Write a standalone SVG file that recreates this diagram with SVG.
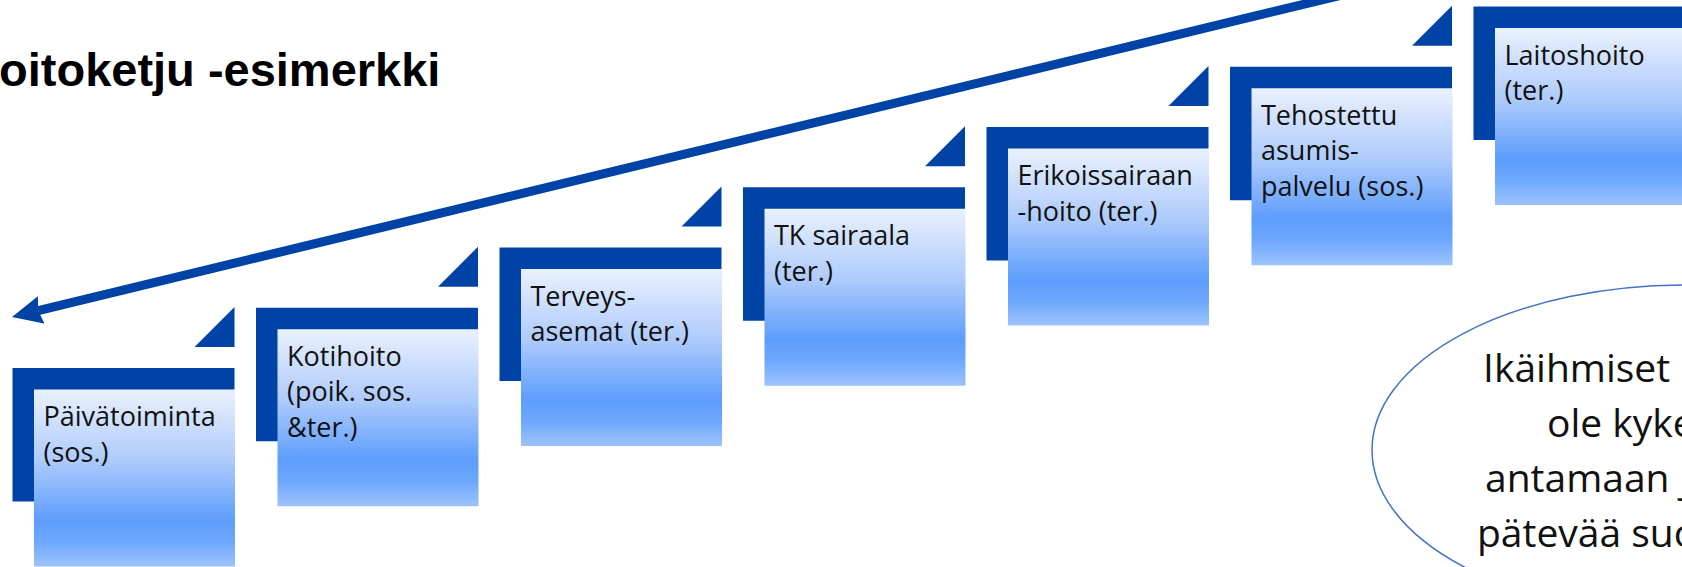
<svg xmlns="http://www.w3.org/2000/svg" width="1682" height="567" viewBox="0 0 1682 567">
  <defs>
    <linearGradient id="lightFill" x1="0" y1="0" x2="0" y2="1">
      <stop offset="0" stop-color="#eaf1fe"/>
      <stop offset="0.4" stop-color="#aecbfc"/>
      <stop offset="0.74" stop-color="#5d9dfd"/>
      <stop offset="0.86" stop-color="#6ea8fd"/>
      <stop offset="1" stop-color="#9dc3fc"/>
    </linearGradient>
    <marker id="arrowHead" markerUnits="userSpaceOnUse" markerWidth="30" markerHeight="28" viewBox="0 0 30 28" refX="3" refY="14" orient="auto">
      <path d="M0,0 L30,14 L0,28 L3,14 Z" fill="#0043a6"/>
    </marker>
    <style>
      .frame { fill: #0043a6; }
      .light { fill: url(#lightFill); }
      .tri { fill: #0043a6; }
      .label { font-family: "Open Sans", "Noto Sans", sans-serif; font-size: 27px; fill: #111111; }
      .title { font-family: "Liberation Sans", Arial, sans-serif; font-weight: bold; font-size: 47px; fill: #000; }
      .bubble { fill: none; stroke: #4472c4; stroke-width: 1.5; }
      .bubbleText { font-family: "Open Sans", "Noto Sans", sans-serif; font-size: 39px; fill: #111; }
      .arrow { fill: none; stroke: #0043a6; stroke-width: 9; }
    </style>
  </defs>

  <rect x="0" y="0" width="1682" height="567" fill="#ffffff"/>

  <text class="title" x="-1" y="86">oitoketju -esimerkki</text>

  <g id="connectors">
    <path class="arrow" d="M1400,-19 L38.24,310.65" marker-end="url(#arrowHead)"/>
  </g>

  <g id="n1" transform="translate(12.5,368)">
    <path class="tri" d="M182,-21 L222,-61 L222,-21 Z"/>
    <rect class="frame" x="0" y="0" width="222" height="133.5"/>
    <rect class="light" x="21.5" y="21.5" width="201" height="177"/>
    <text class="label" x="31" y="58">Päivätoiminta</text>
    <text class="label" x="31" y="93.5">(sos.)</text>
  </g>

  <g id="n2" transform="translate(256,307.75)">
    <path class="tri" d="M182,-21 L222,-61 L222,-21 Z"/>
    <rect class="frame" x="0" y="0" width="222" height="133.5"/>
    <rect class="light" x="21.5" y="21.5" width="201" height="177"/>
    <text class="label" x="31" y="58">Kotihoito</text>
    <text class="label" x="31" y="93.5">(poik. sos.</text>
    <text class="label" x="31" y="129">&amp;ter.)</text>
  </g>

  <g id="n3" transform="translate(499.5,247.5)">
    <path class="tri" d="M182,-21 L222,-61 L222,-21 Z"/>
    <rect class="frame" x="0" y="0" width="222" height="133.5"/>
    <rect class="light" x="21.5" y="21.5" width="201" height="177"/>
    <text class="label" x="31" y="58">Terveys-</text>
    <text class="label" x="31" y="93.5">asemat (ter.)</text>
  </g>

  <g id="n4" transform="translate(743,187.25)">
    <path class="tri" d="M182,-21 L222,-61 L222,-21 Z"/>
    <rect class="frame" x="0" y="0" width="222" height="133.5"/>
    <rect class="light" x="21.5" y="21.5" width="201" height="177"/>
    <text class="label" x="31" y="58">TK sairaala</text>
    <text class="label" x="31" y="93.5">(ter.)</text>
  </g>

  <g id="n5" transform="translate(986.5,127)">
    <path class="tri" d="M182,-21 L222,-61 L222,-21 Z"/>
    <rect class="frame" x="0" y="0" width="222" height="133.5"/>
    <rect class="light" x="21.5" y="21.5" width="201" height="177"/>
    <text class="label" x="31" y="58">Erikoissairaan</text>
    <text class="label" x="31" y="93.5">-hoito (ter.)</text>
  </g>

  <g id="n6" transform="translate(1230,66.75)">
    <path class="tri" d="M182,-21 L222,-61 L222,-21 Z"/>
    <rect class="frame" x="0" y="0" width="222" height="133.5"/>
    <rect class="light" x="21.5" y="21.5" width="201" height="177"/>
    <text class="label" x="31" y="58">Tehostettu</text>
    <text class="label" x="31" y="93.5">asumis-</text>
    <text class="label" x="31" y="129">palvelu (sos.)</text>
  </g>

  <g id="n7" transform="translate(1473.5,6.5)">
    <rect class="frame" x="0" y="0" width="222" height="133.5"/>
    <rect class="light" x="21.5" y="21.5" width="201" height="177"/>
    <text class="label" x="31" y="58">Laitoshoito</text>
    <text class="label" x="31" y="93.5">(ter.)</text>
  </g>

  <g id="n8">
    <ellipse class="bubble" cx="1685" cy="450" rx="313" ry="165"/>
    <text class="bubbleText" x="1483" y="382">Ikäihmiset</text>
    <text class="bubbleText" x="1547" y="437">ole kyke</text>
    <text class="bubbleText" x="1485" y="492">antamaan j</text>
    <text class="bubbleText" x="1477" y="547">pätevää suo</text>
  </g>
</svg>
